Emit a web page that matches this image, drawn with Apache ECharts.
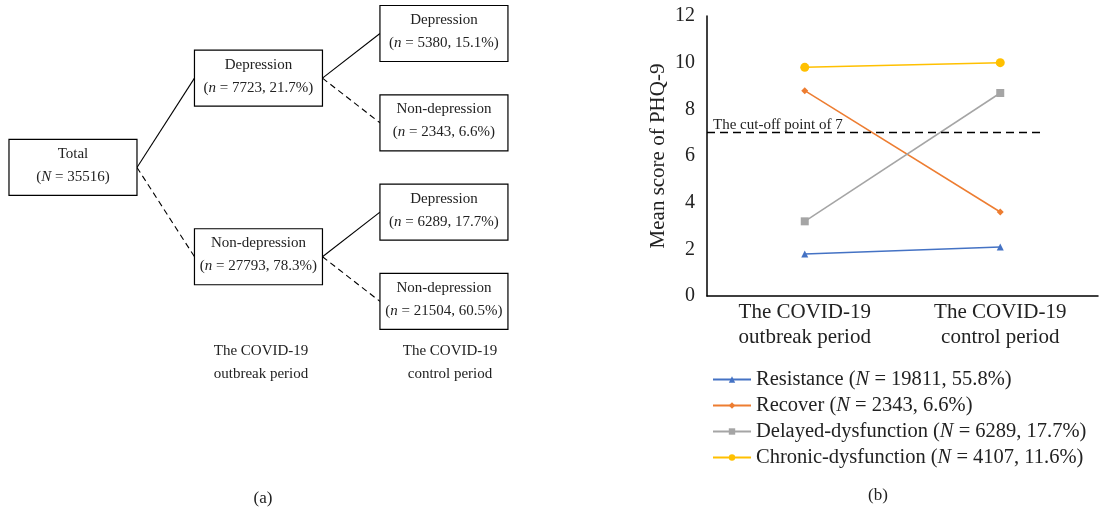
<!DOCTYPE html>
<html><head><meta charset="utf-8">
<script src="https://cdn.jsdelivr.net/npm/echarts@6/dist/echarts.min.js"></script>
<style>html,body{margin:0;padding:0;background:#fff}#c{width:1099px;height:509px}</style>
</head><body><div id="c"></div>
<script>
// ---- Panel (a): tree data ----
const treeNames   = ['Total', 'Depression', 'Non-depression', 'Depression', 'Non-depression', 'Depression', 'Non-depression'];
const treeSymbols = ['N', 'n', 'n', 'n', 'n', 'n', 'n'];
const treeCounts  = [35516, 7723, 27793, 5380, 2343, 6289, 21504];
const treePcts    = [null, 21.7, 78.3, 15.1, 6.6, 17.7, 60.5];
const treeParents = [-1, 0, 0, 1, 1, 2, 2];
const periodLabels = ['The COVID-19\noutbreak period', 'The COVID-19\ncontrol period'];

// ---- Panel (b): line chart data ----
const periods = ['The COVID-19\noutbreak period', 'The COVID-19\ncontrol period'];
const seriesNames = ['Resistance (N = 19811, 55.8%)', 'Recover (N = 2343, 6.6%)',
                     'Delayed-dysfunction (N = 6289, 17.7%)', 'Chronic-dysfunction (N = 4107, 11.6%)'];
const resistance = [1.8, 2.1];
const recover    = [8.8, 3.6];
const delayed    = [3.2, 8.7];
const chronic    = [9.8, 10.0];
const cutoff = 7;
const cutoffEnd = 1.714; // along hidden 0..2 axis spanning the two category bands

const FONT = '"Liberation Serif", "DejaVu Serif", serif';
const TXT = '#222';

// ---- tree layout from structure ----
const n = treeNames.length;
const children = treeNames.map(() => []);
treeParents.forEach((p, i) => { if (p >= 0) children[p].push(i); });
const depth = new Array(n).fill(0), row = new Array(n).fill(0);
let leafCounter = 0;
(function dfs(i, d) {
  depth[i] = d;
  if (!children[i].length) { row[i] = leafCounter++; return; }
  children[i].forEach(c => dfs(c, d + 1));
  row[i] = children[i].reduce((s, c) => s + row[c], 0) / children[i].length;
})(0, 0);

const nodeData = treeNames.map((_, i) => [depth[i], row[i], i]);
const edgeData = [];
treeParents.forEach((p, i) => {
  if (p >= 0) edgeData.push([depth[p], row[p], depth[i], row[i], treeNames[i].startsWith('Non') ? 1 : 0]);
});
function nodeText(i) {
  let t = treeNames[i] + '\n(' + '{i|' + treeSymbols[i] + '}' + ' = ' + treeCounts[i];
  if (treePcts[i] != null) t += ', ' + treePcts[i].toFixed(1) + '%';
  return t + ')';
}
const BW = 128, BH = 56;

const chart = echarts.init(document.getElementById('c'));
const lineBase = { type: 'line', xAxisIndex: 1, yAxisIndex: 1, symbolSize: 8, lineStyle: { width: 1.5 } };
chart.setOption({
  animation: false,
  backgroundColor: '#fff',
  textStyle: { fontFamily: FONT, color: TXT },
  title: [
    { text: '(a)', left: 258, top: 485, textAlign: 'center', textStyle: { fontFamily: FONT, fontSize: 17, fontWeight: 'normal', color: TXT } },
    { text: '(b)', left: 873, top: 482, textAlign: 'center', textStyle: { fontFamily: FONT, fontSize: 17, fontWeight: 'normal', color: TXT } },
    { text: periodLabels[0], left: 256, top: 335, textAlign: 'center', textStyle: { fontFamily: FONT, fontSize: 15, lineHeight: 23, fontWeight: 'normal', color: TXT } },
    { text: periodLabels[1], left: 445, top: 335, textAlign: 'center', textStyle: { fontFamily: FONT, fontSize: 15, lineHeight: 23, fontWeight: 'normal', color: TXT } }
  ],
  grid: [
    { left: 0, top: 0, width: 640, height: 509, show: false },
    { left: 707, top: 16, width: 391, height: 280 }
  ],
  xAxis: [
    { gridIndex: 0, type: 'value', min: -0.3935, max: 3.057, show: false },
    { gridIndex: 1, type: 'category', data: periods, boundaryGap: true,
      axisLine: { lineStyle: { color: '#000', width: 1.5 } }, axisTick: { show: false },
      axisLabel: { interval: 0, fontFamily: FONT, fontSize: 21, lineHeight: 25, color: TXT, margin: 4 } },
    { gridIndex: 1, type: 'value', min: 0, max: 2, show: false }
  ],
  yAxis: [
    { gridIndex: 0, type: 'value', inverse: true, min: -0.375, max: 5.325, show: false },
    { gridIndex: 1, type: 'value', min: 0, max: 12, interval: 2,
      axisLine: { show: true, lineStyle: { color: '#000', width: 1.5 } }, axisTick: { show: false },
      splitLine: { show: false },
      axisLabel: { fontFamily: FONT, fontSize: 20, color: TXT, margin: 12 },
      name: 'Mean score of PHQ-9', nameLocation: 'middle', nameGap: 38, nameRotate: 90,
      nameTextStyle: { fontFamily: FONT, fontSize: 21, color: TXT } }
  ],
  legend: {
    data: seriesNames, orient: 'vertical', left: 707, top: 364,
    itemWidth: 38, itemHeight: 8, itemGap: 5,
    textStyle: { fontFamily: FONT, fontSize: 20.5, color: TXT,
      rich: { i: { fontFamily: FONT, fontSize: 20.5, fontStyle: 'italic', color: TXT } } },
    formatter: name => name.replace('(N =', '({i|N} =')
  },
  series: [
    { type: 'custom', coordinateSystem: 'cartesian2d', xAxisIndex: 0, yAxisIndex: 0, silent: true, z: 1,
      data: edgeData, encode: { x: [0, 2], y: [1, 3] },
      renderItem: (params, api) => {
        const p = api.coord([api.value(0), api.value(1)]);
        const c = api.coord([api.value(2), api.value(3)]);
        return { type: 'line', shape: { x1: p[0] + BW / 2, y1: p[1], x2: c[0] - BW / 2, y2: c[1] },
          style: { stroke: '#000', lineWidth: 1.1, lineDash: api.value(4) ? [6, 4] : null } };
      } },
    { type: 'custom', coordinateSystem: 'cartesian2d', xAxisIndex: 0, yAxisIndex: 0, silent: true, z: 2,
      data: nodeData, encode: { x: 0, y: 1 },
      renderItem: (params, api) => {
        const p = api.coord([api.value(0), api.value(1)]);
        const i = api.value(2);
        return { type: 'group', children: [
          { type: 'rect', shape: { x: p[0] - BW / 2, y: p[1] - BH / 2, width: BW, height: BH },
            style: { fill: '#fff', stroke: '#000', lineWidth: 1.2 } },
          { type: 'text', style: { text: nodeText(i), x: p[0], y: p[1] - 2, align: 'center', verticalAlign: 'middle',
              fontFamily: FONT, fontSize: 15, lineHeight: 23, fill: TXT,
              rich: { i: { fontFamily: FONT, fontSize: 15, fontStyle: 'italic', fill: TXT, lineHeight: 23 } } } }
        ] };
      } },
    Object.assign({}, lineBase, { name: seriesNames[0], data: resistance, symbol: 'triangle', symbolSize: 7, color: '#4472C4' }),
    Object.assign({}, lineBase, { name: seriesNames[1], data: recover, symbol: 'diamond', symbolSize: 7, color: '#ED7D31' }),
    Object.assign({}, lineBase, { name: seriesNames[2], data: delayed, symbol: 'rect', color: '#A5A5A5' }),
    Object.assign({}, lineBase, { name: seriesNames[3], data: chronic, symbol: 'circle', symbolSize: 9, color: '#FFC000' }),
    { type: 'line', xAxisIndex: 2, yAxisIndex: 1, data: [], silent: true,
      markLine: { symbol: 'none', silent: true, animation: false,
        lineStyle: { type: [8, 5], color: '#000', width: 1.3 },
        label: { position: 'insideStartTop', distance: [6, 0], formatter: 'The cut-off point of 7',
          fontFamily: FONT, fontSize: 15, color: TXT },
        data: [[{ coord: [0, cutoff] }, { coord: [cutoffEnd, cutoff] }]] } }
  ]
});
</script></body></html>
